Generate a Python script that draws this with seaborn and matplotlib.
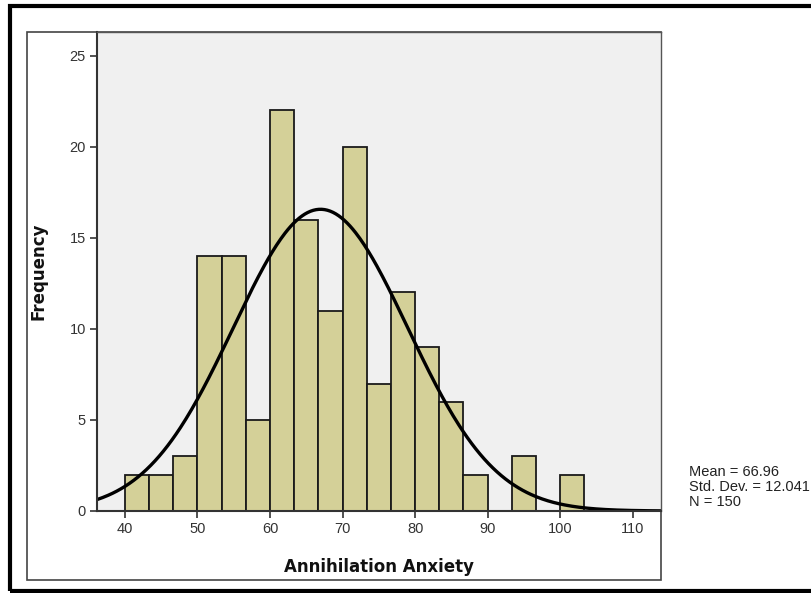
import numpy as np
import pandas as pd
import matplotlib
matplotlib.use("Agg")
import matplotlib.pyplot as plt
import seaborn as sns
from matplotlib.patches import Rectangle

# Data
bin_width = 10 / 3
bin_edges = [40 + i * bin_width for i in range(20)]
counts = [2, 2, 3, 14, 14, 5, 22, 16, 11, 20, 7, 12, 9, 6, 2, 0, 3, 0, 2]
mean_val = 66.96
std_val = 12.041
n_val = 150
x_ticks = [40, 50, 60, 70, 80, 90, 100, 110]
y_ticks = [0, 5, 10, 15, 20, 25]

centers = [bin_edges[i] + bin_width / 2 for i in range(len(counts))]
df = pd.DataFrame({"value": centers, "count": counts})

sns.set_theme(style="white")
plt.rcParams["font.family"] = ["Liberation Sans", "DejaVu Sans"]

fig = plt.figure(figsize=(8.12, 5.93), dpi=100)
ax = fig.add_axes([97 / 812, 1 - 511 / 593, (661 - 97) / 812, (511 - 32) / 593])
ax.set_facecolor("#f0f0f0")

sns.histplot(data=df, x="value", weights="count", bins=bin_edges,
             color="#d4d098", edgecolor="#1a1a1a", linewidth=1.3, alpha=1,
             ax=ax)

xs = np.linspace(36.15, 113.9, 400)
pdf = n_val * bin_width / (std_val * np.sqrt(2 * np.pi)) * np.exp(-0.5 * ((xs - mean_val) / std_val) ** 2)
sns.lineplot(x=xs, y=pdf, color="black", linewidth=2.4, ax=ax)

ax.set_xlim(36.15, 113.9)
ax.set_ylim(0, 26.3)
ax.set_xticks(x_ticks)
ax.set_yticks(y_ticks)
ax.tick_params(axis="both", direction="out", length=5, width=1.2, color="#333333",
               labelsize=10.5, labelcolor="#333333", bottom=True, left=True, pad=3)
for s in ["left", "bottom"]:
    ax.spines[s].set_color("#333333")
    ax.spines[s].set_linewidth(1.5)
for s in ["top", "right"]:
    ax.spines[s].set_color("#555555")
    ax.spines[s].set_linewidth(1.0)

ax.set_xlabel("Annihilation Anxiety", fontsize=12, fontweight="bold", labelpad=16,
              family="DejaVu Sans", color="#111111")
ax.set_ylabel("Frequency", fontsize=12, fontweight="bold", labelpad=16,
              family="DejaVu Sans", color="#111111")

# Inner frame
fig.patches.append(Rectangle((27 / 812, 1 - 580 / 593), (661 - 27) / 812, (580 - 32) / 593,
                             transform=fig.transFigure, fill=False, edgecolor="#444444",
                             linewidth=1.2, zorder=-1))
# Outer frame
fig.patches.append(Rectangle((10 / 812, 1 - 591 / 593), 1.0, (591 - 6) / 593,
                             transform=fig.transFigure, fill=False, edgecolor="black",
                             linewidth=3, zorder=-1))

fig.text(689 / 812, 1 - 487 / 593,
         f"Mean = {mean_val:.2f}\nStd. Dev. = {std_val:.3f}\nN = {n_val}",
         fontsize=10.5, color="#222222", va="center", ha="left", linespacing=1.1)

fig.savefig("out.png", dpi=100)
